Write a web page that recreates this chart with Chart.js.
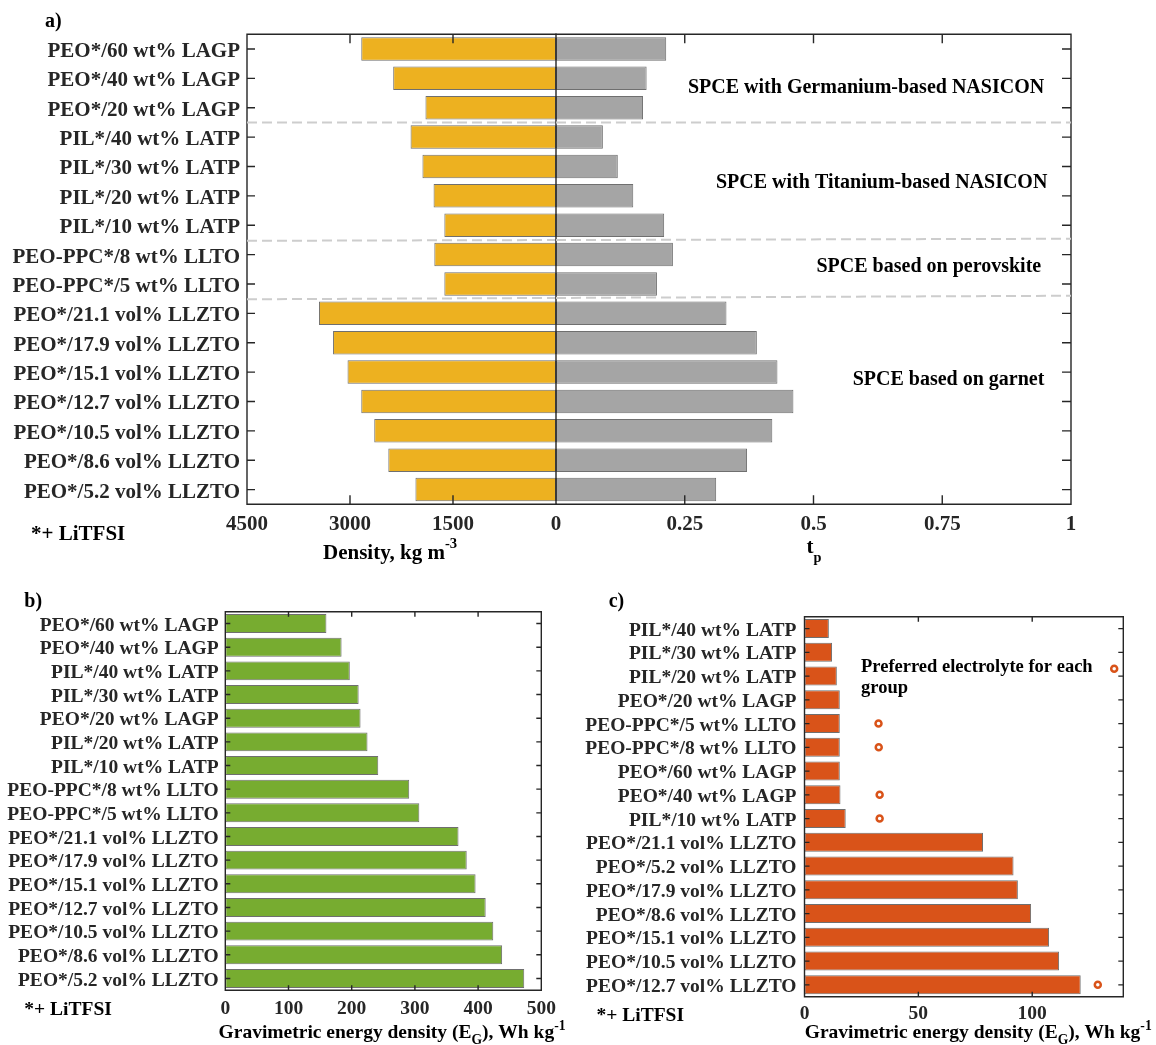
<!DOCTYPE html>
<html>
<head>
<meta charset="utf-8">
<title>Solid polymer composite electrolytes</title>
<script src="https://cdn.jsdelivr.net/npm/chart.js@4.4.1/dist/chart.umd.min.js"></script>
<style>
  html, body { margin: 0; padding: 0; background: #fff; }
  #page { position: relative; width: 1156px; height: 1045px; overflow: hidden; background: #fff; }
  canvas { position: absolute; }
</style>
</head>
<body>
<div id="page">
  <canvas id="densityChart" width="600" height="575" style="left:0px;top:0px"></canvas>
  <canvas id="tpChart" width="616" height="575" style="left:540px;top:0px"></canvas>
  <canvas id="energyChart" width="580" height="460" style="left:0px;top:585px"></canvas>
  <canvas id="rankChart" width="576" height="460" style="left:580px;top:585px"></canvas>
</div>
<script>
// ---------- data ----------
const electrolytesA = [
  'PEO*/60 wt% LAGP', 'PEO*/40 wt% LAGP', 'PEO*/20 wt% LAGP',
  'PIL*/40 wt% LATP', 'PIL*/30 wt% LATP', 'PIL*/20 wt% LATP', 'PIL*/10 wt% LATP',
  'PEO-PPC*/8 wt% LLTO', 'PEO-PPC*/5 wt% LLTO',
  'PEO*/21.1 vol% LLZTO', 'PEO*/17.9 vol% LLZTO', 'PEO*/15.1 vol% LLZTO', 'PEO*/12.7 vol% LLZTO',
  'PEO*/10.5 vol% LLZTO', 'PEO*/8.6 vol% LLZTO', 'PEO*/5.2 vol% LLZTO'
];
const densityValues = [2836, 2371, 1901, 2118, 1945, 1783, 1626, 1772, 1626, 3452, 3247, 3036, 2836, 2647, 2442, 2047];
const tpValues = [0.214, 0.176, 0.169, 0.091, 0.120, 0.150, 0.210, 0.227, 0.196, 0.331, 0.390, 0.430, 0.461, 0.420, 0.371, 0.311];
const densityTicks = [4500, 3000, 1500, 0];
const tpTicks = [0, 0.25, 0.5, 0.75, 1];
const groupNames = [
  'SPCE with Germanium-based NASICON',
  'SPCE with Titanium-based NASICON',
  'SPCE based on perovskite',
  'SPCE based on garnet'
];

const electrolytesB = [
  'PEO*/60 wt% LAGP', 'PEO*/40 wt% LAGP', 'PIL*/40 wt% LATP', 'PIL*/30 wt% LATP',
  'PEO*/20 wt% LAGP', 'PIL*/20 wt% LATP', 'PIL*/10 wt% LATP',
  'PEO-PPC*/8 wt% LLTO', 'PEO-PPC*/5 wt% LLTO',
  'PEO*/21.1 vol% LLZTO', 'PEO*/17.9 vol% LLZTO', 'PEO*/15.1 vol% LLZTO', 'PEO*/12.7 vol% LLZTO',
  'PEO*/10.5 vol% LLZTO', 'PEO*/8.6 vol% LLZTO', 'PEO*/5.2 vol% LLZTO'
];
const energyValuesB = [160, 184, 197, 211, 214, 225, 242, 291, 307, 369, 382, 396, 412, 424, 438, 473];
const energyTicksB = [0, 100, 200, 300, 400, 500];

const electrolytesC = [
  'PIL*/40 wt% LATP', 'PIL*/30 wt% LATP', 'PIL*/20 wt% LATP', 'PEO*/20 wt% LAGP',
  'PEO-PPC*/5 wt% LLTO', 'PEO-PPC*/8 wt% LLTO', 'PEO*/60 wt% LAGP', 'PEO*/40 wt% LAGP',
  'PIL*/10 wt% LATP',
  'PEO*/21.1 vol% LLZTO', 'PEO*/5.2 vol% LLZTO', 'PEO*/17.9 vol% LLZTO', 'PEO*/8.6 vol% LLZTO',
  'PEO*/15.1 vol% LLZTO', 'PEO*/10.5 vol% LLZTO', 'PEO*/12.7 vol% LLZTO'
];
const energyValuesC = [10.7, 12.1, 14.2, 15.5, 15.5, 15.5, 15.5, 15.8, 18.1, 78.4, 91.8, 93.7, 99.5, 107.4, 111.8, 121.3];
const preferredMarksC = [null, null, null, null, 32.5, 32.6, null, 33.0, 33.0, null, null, null, null, null, null, 128.8];
const energyTicksC = [0, 50, 100];
const legendTextC = ['Preferred electrolyte for each', 'group'];

// ---------- style ----------
const FONT = "'Liberation Serif', 'Times New Roman', serif";
const AXIS = '#262626';
const EDGE = 'rgba(75,75,75,0.8)';
const ORANGE = '#D95319';

Chart.defaults.font.family = FONT;
Chart.defaults.font.weight = 'bold';
Chart.defaults.color = AXIS;
Chart.defaults.animation = false;
Chart.defaults.plugins.legend.display = false;
Chart.defaults.plugins.tooltip.enabled = false;

function valueAxis(cfg) {
  return {
    type: 'linear', min: cfg.min, max: cfg.max, reverse: !!cfg.reverse,
    afterBuildTicks: s => { s.ticks = cfg.ticks.map(v => ({ value: v })); },
    afterFit: s => { s.height = cfg.height; },
    grid: { display: false, drawTicks: false },
    border: { display: false },
    ticks: {
      font: { size: cfg.size }, padding: cfg.pad, maxRotation: 0, autoSkip: false,
      callback: v => (cfg.hideZero && v === 0) ? '' : String(v)
    }
  };
}
function categoryAxis(cfg) {
  return {
    type: 'category', display: cfg.display !== false,
    afterFit: s => { s.width = cfg.width; },
    grid: { display: false, drawTicks: false },
    border: { display: false },
    ticks: { font: { size: cfg.size }, padding: cfg.pad, autoSkip: false, labelOffset: cfg.shift || 0 }
  };
}
function barSet(values, color) {
  return {
    data: values, backgroundColor: color, borderColor: EDGE, borderWidth: 1,
    borderSkipped: false, barPercentage: 0.8, categoryPercentage: 1
  };
}

// box outline with inward ticks
function framePlugin(o) {
  return {
    id: 'frame',
    afterDatasetsDraw(chart) {
      const { ctx, chartArea: a } = chart;
      const xs = chart.scales.x, ys = chart.scales.y;
      ctx.save();
      ctx.strokeStyle = AXIS;
      ctx.lineWidth = 1.4;
      ctx.lineCap = 'butt';
      ctx.beginPath();
      xs.ticks.forEach(t => {
        const px = xs.getPixelForValue(t.value);
        if (px <= a.left + 1 || px >= a.right - 1) return;
        ctx.moveTo(px, a.top); ctx.lineTo(px, a.top + o.xLen);
        ctx.moveTo(px, a.bottom); ctx.lineTo(px, a.bottom - o.xLen);
      });
      ys.ticks.forEach((t, i) => {
        const py = ys.getPixelForTick(i);
        if (o.leftTicks) { ctx.moveTo(a.left, py); ctx.lineTo(a.left + o.yLen, py); }
        if (o.rightTicks) { ctx.moveTo(a.right, py); ctx.lineTo(a.right - o.yLen, py); }
      });
      ctx.stroke();
      ctx.lineCap = 'square';
      ctx.beginPath();
      ctx.moveTo(a.left, a.top); ctx.lineTo(a.right, a.top);
      ctx.moveTo(a.left, a.bottom); ctx.lineTo(a.right, a.bottom);
      if (o.leftEdge) { ctx.moveTo(a.left, a.top); ctx.lineTo(a.left, a.bottom); }
      if (o.rightEdge) { ctx.moveTo(a.right, a.top); ctx.lineTo(a.right, a.bottom); }
      ctx.stroke();
      ctx.restore();
    }
  };
}

// dashed group separators (category units at the left and right end of panel a)
const groupSeparators = [[2.5, 2.5], [6.53, 6.46], [8.52, 8.40]];
const PANEL_A_LEFT = 247, PANEL_A_RIGHT = 1071;
function separatorPlugin(offsetX) {
  return {
    id: 'separators',
    afterDatasetsDraw(chart) {
      const { ctx, chartArea: a } = chart;
      const ys = chart.scales.y;
      const at = (s, px) => s[0] + (s[1] - s[0]) * ((px + offsetX - PANEL_A_LEFT) / (PANEL_A_RIGHT - PANEL_A_LEFT));
      ctx.save();
      ctx.strokeStyle = '#cdcdcd';
      ctx.lineWidth = 2;
      ctx.setLineDash([10, 5]);
      groupSeparators.forEach(s => {
        ctx.beginPath();
        ctx.moveTo(a.left, ys.getPixelForValue(at(s, a.left)));
        ctx.lineTo(a.right, ys.getPixelForValue(at(s, a.right)));
        ctx.stroke();
      });
      ctx.restore();
    }
  };
}

// text with optional sub/superscript parts
function drawRich(ctx, x, y, parts, size, color) {
  let cx = x;
  parts.forEach(p => {
    const s = size * (p.s || 1);
    ctx.font = 'bold ' + s + 'px ' + FONT;
    ctx.fillStyle = color;
    ctx.textBaseline = 'alphabetic';
    ctx.textAlign = 'left';
    ctx.fillText(p.t, cx, y + (p.dy || 0));
    cx += ctx.measureText(p.t).width;
  });
}
function ring(ctx, x, y) {
  ctx.save();
  ctx.beginPath();
  ctx.arc(x, y, 3, 0, Math.PI * 2);
  ctx.fillStyle = '#fff';
  ctx.fill();
  ctx.lineWidth = 2.5;
  ctx.strokeStyle = ORANGE;
  ctx.stroke();
  ctx.restore();
}
function textPlugin(items, offX, offY, rings) {
  return {
    id: 'texts',
    afterDraw(chart) {
      const ctx = chart.ctx;
      items.forEach(it => drawRich(ctx, it.x - offX, it.y - offY, it.parts, it.size, it.color || '#000'));
      (rings || []).forEach(r => ring(ctx, r.x - offX, r.y - offY));
    }
  };
}

// ---------- panel a, left half: density ----------
new Chart(document.getElementById('densityChart'), {
  type: 'bar',
  data: { labels: electrolytesA, datasets: [barSet(densityValues, '#EDB120')] },
  options: {
    indexAxis: 'y', responsive: false,
    layout: { padding: { left: 0, right: 44, top: 34.3, bottom: 0 } },
    scales: {
      x: valueAxis({ min: 0, max: 4500, reverse: true, ticks: densityTicks, size: 21, pad: 8, height: 70.7 }),
      y: categoryAxis({ width: 247, size: 21, pad: 7, shift: 2.5 })
    }
  },
  plugins: [
    framePlugin({ xLen: 9, yLen: 8, leftTicks: true, leftEdge: true }),
    separatorPlugin(0),
    textPlugin([
      { x: 45, y: 27, size: 20, parts: [{ t: 'a)' }] },
      { x: 31, y: 540, size: 21, parts: [{ t: '*+ LiTFSI' }] },
      { x: 323, y: 558.6, size: 21, parts: [{ t: 'Density, kg m' }, { t: '-3', s: 0.7, dy: -10.5 }] }
    ], 0, 0)
  ]
});

// ---------- panel a, right half: transference number ----------
const groupAnchors = [[688, 92.7], [716, 188.3], [816.5, 271.7], [852.7, 385]];
new Chart(document.getElementById('tpChart'), {
  type: 'bar',
  data: { labels: electrolytesA, datasets: [barSet(tpValues, '#A5A5A5')] },
  options: {
    indexAxis: 'y', responsive: false,
    layout: { padding: { left: 16, right: 85, top: 34.3, bottom: 0 } },
    scales: {
      x: valueAxis({ min: 0, max: 1, ticks: tpTicks, size: 21, pad: 8, height: 70.7, hideZero: true }),
      y: categoryAxis({ width: 0, size: 21, pad: 0, display: false })
    }
  },
  plugins: [
    framePlugin({ xLen: 9, yLen: 9, rightTicks: true, leftEdge: true, rightEdge: true }),
    separatorPlugin(540),
    textPlugin([
      { x: 806.5, y: 553.3, size: 21, parts: [{ t: 't' }, { t: 'p', s: 0.68, dy: 9 }] }
    ].concat(groupNames.map((g, i) => ({ x: groupAnchors[i][0], y: groupAnchors[i][1], size: 20, parts: [{ t: g }] }))), 540, 0)
  ]
});

// ---------- panel b: gravimetric energy density ----------
new Chart(document.getElementById('energyChart'), {
  type: 'bar',
  data: { labels: electrolytesB, datasets: [barSet(energyValuesB, '#77AC30')] },
  options: {
    indexAxis: 'y', responsive: false,
    layout: { padding: { left: 0, right: 38.7, top: 26.7, bottom: 0 } },
    scales: {
      x: valueAxis({ min: 0, max: 500, ticks: energyTicksB, size: 19.5, pad: 7, height: 54.7 }),
      y: categoryAxis({ width: 225.3, size: 19.5, pad: 6.7, shift: 2 })
    }
  },
  plugins: [
    framePlugin({ xLen: 5, yLen: 5, leftTicks: true, rightTicks: true, leftEdge: true, rightEdge: true }),
    textPlugin([
      { x: 24.3, y: 606.7, size: 20, parts: [{ t: 'b)' }] },
      { x: 24.3, y: 1015.3, size: 19.5, parts: [{ t: '*+ LiTFSI' }] },
      { x: 218.6, y: 1038.3, size: 19.5, parts: [
        { t: 'Gravimetric energy density (E' }, { t: 'G', s: 0.7, dy: 6 },
        { t: '), Wh kg' }, { t: '-1', s: 0.7, dy: -8 }] }
    ], 0, 585)
  ]
});

// ---------- panel c: energy density ranking with preferred electrolytes ----------
new Chart(document.getElementById('rankChart'), {
  type: 'bar',
  data: {
    labels: electrolytesC,
    datasets: [
      barSet(energyValuesC, ORANGE),
      {
        type: 'line', indexAxis: 'y', data: preferredMarksC, showLine: false,
        pointStyle: 'circle', pointRadius: 3, pointBorderWidth: 2.5,
        pointBorderColor: ORANGE, pointBackgroundColor: '#fff', borderColor: ORANGE
      }
    ]
  },
  options: {
    indexAxis: 'y', responsive: false,
    layout: { padding: { left: 0, right: 32.7, top: 31.7, bottom: 0 } },
    scales: {
      x: valueAxis({ min: 0, max: 140, ticks: energyTicksC, size: 19.5, pad: 5.6, height: 48.3 }),
      y: categoryAxis({ width: 224.5, size: 19.5, pad: 8, shift: 2 })
    }
  },
  plugins: [
    framePlugin({ xLen: 5, yLen: 5, leftTicks: true, rightTicks: true, leftEdge: true, rightEdge: true }),
    textPlugin([
      { x: 608.7, y: 606.7, size: 20, parts: [{ t: 'c)' }] },
      { x: 596.5, y: 1020.5, size: 19.5, parts: [{ t: '*+ LiTFSI' }] },
      { x: 804.8, y: 1038.3, size: 19.5, parts: [
        { t: 'Gravimetric energy density (E' }, { t: 'G', s: 0.7, dy: 6 },
        { t: '), Wh kg' }, { t: '-1', s: 0.7, dy: -8 }] },
      { x: 861, y: 671.7, size: 18.5, parts: [{ t: legendTextC[0] }] },
      { x: 861, y: 693.3, size: 18.5, parts: [{ t: legendTextC[1] }] }
    ], 580, 585, [{ x: 1114.2, y: 668.7 }])
  ]
});
</script>
</body>
</html>
